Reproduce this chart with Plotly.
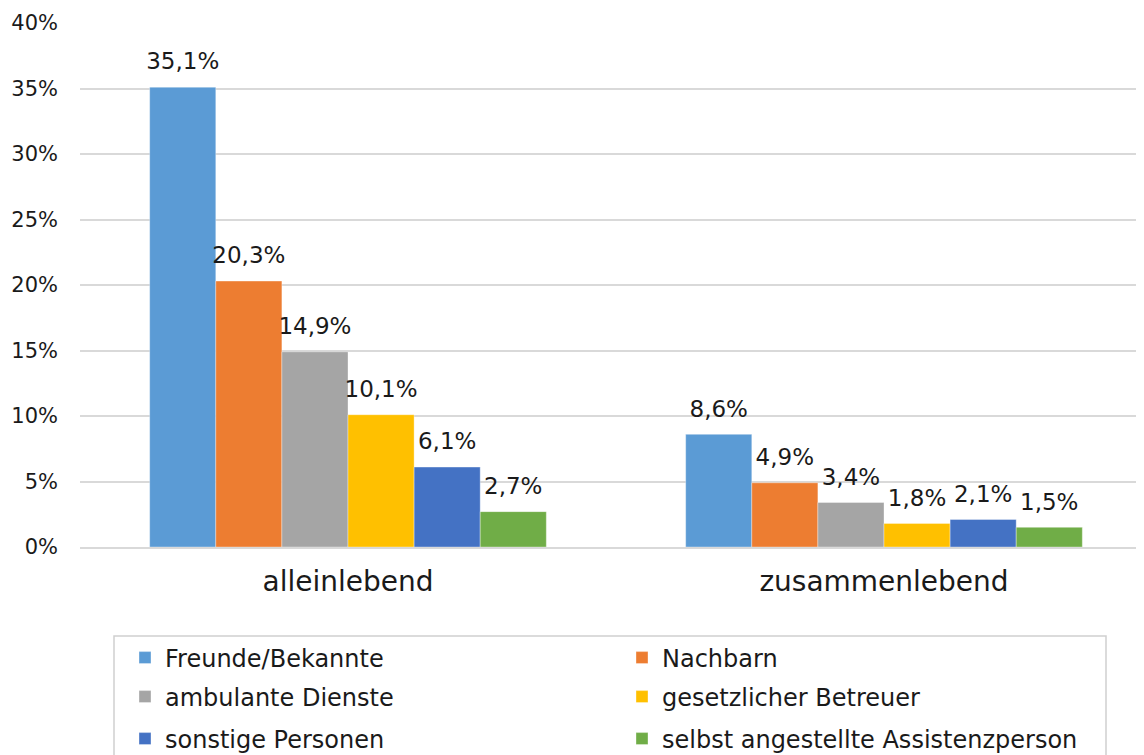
import plotly.graph_objects as go

categories = ["alleinlebend", "zusammenlebend"]
series_names = ["Freunde/Bekannte", "Nachbarn", "ambulante Dienste",
                "gesetzlicher Betreuer", "sonstige Personen",
                "selbst angestellte Assistenzperson"]
values = [
    [35.1, 8.6],
    [20.3, 4.9],
    [14.9, 3.4],
    [10.1, 1.8],
    [6.1, 2.1],
    [2.7, 1.5],
]
colors = ["#5B9BD5", "#ED7D31", "#A5A5A5", "#FFC000", "#4472C4", "#70AD47"]
y_ticks = [0, 5, 10, 15, 20, 25, 30, 35, 40]
y_tick_labels = [f"{v}%" for v in y_ticks]

FONT = "DejaVu Sans"
TXT = "#1a1a1a"
LABEL_PAD = 0.75  # gap (data units) between bar top and its value label

# The page body has an 8px margin, so screen coords = figure coords + 8
OFF = 8
W, H = 1144, 755
ML, MR, MT, MB = 80 - OFF, 0, 23 - OFF, 755 - (547 - OFF)
PW, PH = W - ML - MR, H - MT - MB


def px_x(x):  # screen x -> paper
    return (x - OFF - ML) / PW


def px_y(y):  # screen y -> paper
    return (H - MB - (y - OFF)) / PH


legend_ids = ["legend", "legend", "legend2", "legend2", "legend3", "legend3"]

fig = go.Figure()
for i, (name, vals, col, lg) in enumerate(zip(series_names, values, colors, legend_ids)):
    fig.add_trace(go.Bar(
        x=categories, y=vals, name=name, legend=lg, offsetgroup=str(i),
        marker=dict(color=col, line=dict(color="rgba(255,255,255,0.35)", width=1)),
    ))
for i, vals in enumerate(values):
    fig.add_trace(go.Bar(
        x=categories, y=[LABEL_PAD] * len(vals), base=vals, customdata=vals,
        offsetgroup=str(i), showlegend=False, hoverinfo="skip",
        marker=dict(color="rgba(0,0,0,0)", line=dict(width=0)),
        texttemplate="%{customdata:.1f}%", textposition="outside",
        constraintext="none",
        textfont=dict(size=23, color=TXT, family=FONT),
        cliponaxis=False,
    ))

row_centers = [658, 697, 739]
leg_common = dict(
    orientation="h", xanchor="left", yanchor="middle",
    x=px_x(125), entrywidth=452, entrywidthmode="pixels",
    bgcolor="rgba(0,0,0,0)", borderwidth=0,
    font=dict(size=24, family=FONT, color=TXT),
    traceorder="normal",
)

fig.update_layout(
    width=W, height=H,
    separators=",.",
    barmode="group", bargap=0.26, bargroupgap=0,
    paper_bgcolor="white", plot_bgcolor="white",
    margin=dict(l=ML, r=MR, t=MT, b=MB, autoexpand=False),
    font=dict(family=FONT, color=TXT, size=22),
    showlegend=True,
    legend=dict(y=px_y(row_centers[0]), **leg_common),
    legend2=dict(y=px_y(row_centers[1]), **leg_common),
    legend3=dict(y=px_y(row_centers[2]), **leg_common),
    xaxis=dict(
        showline=True, linecolor="#d9d9d9", linewidth=1.5,
        tickfont=dict(size=28, family=FONT, color=TXT),
        ticks="", ticklabelstandoff=9,
    ),
    yaxis=dict(
        range=[0, 40], tickvals=y_ticks, ticktext=y_tick_labels,
        showgrid=True, gridcolor="#d9d9d9", gridwidth=1.5,
        zeroline=False,
        tickfont=dict(size=21, family=FONT, color=TXT),
        ticklabelstandoff=21,
    ),
    shapes=[dict(
        type="rect", xref="paper", yref="paper",
        x0=px_x(114), x1=px_x(1106), y0=px_y(636), y1=px_y(800),
        line=dict(color="#d0d0d0", width=1.5), fillcolor="rgba(0,0,0,0)",
        layer="below",
    )],
)

fig.write_html("out.html")
